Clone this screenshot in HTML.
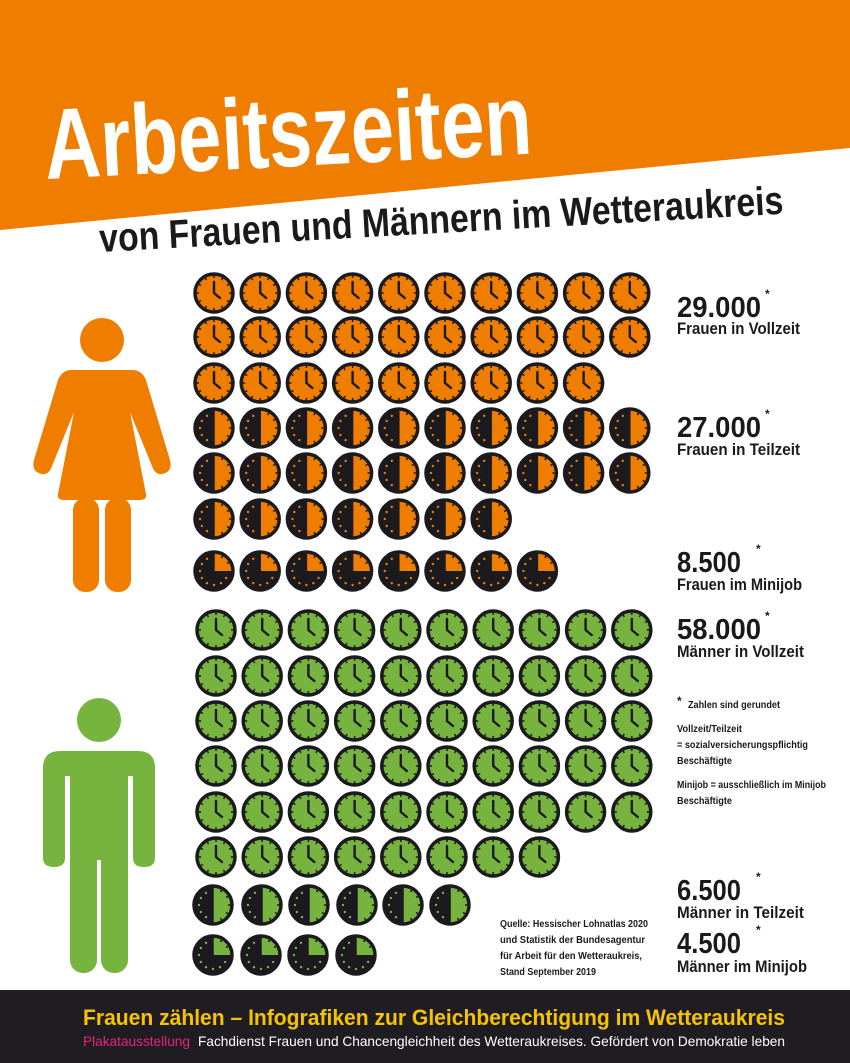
<!DOCTYPE html>
<html><head><meta charset="utf-8"><style>
html,body{margin:0;padding:0;background:#fff;}
svg{display:block;}
text{font-family:"Liberation Sans",sans-serif;font-weight:bold;}
</style></head><body>
<svg id="s" width="850" height="1063" viewBox="0 0 850 1063" xmlns="http://www.w3.org/2000/svg">
<rect width="850" height="1063" fill="#fff"/>
<polygon points="0,0 850,0 850,148 0,230" fill="#ee7d00"/>
<text x="46" y="179" font-size="100" fill="#fff" textLength="488" lengthAdjust="spacingAndGlyphs" transform="rotate(-3 46 179)">Arbeitszeiten</text>
<text x="100" y="252" font-size="40" fill="#1a1a1a" textLength="685" lengthAdjust="spacingAndGlyphs" transform="rotate(-3.2 100 252)">von Frauen und Männern im Wetteraukreis</text>

<g fill="#ee7d00">
  <circle cx="102" cy="340" r="22"/>
  <path d="M72,370 L132,370 Q142,370 146,380 L170,460 Q173,472 162,474 Q155,475 152,466 L130,412 L146,494 Q147,500 140,500 L64,500 Q57,500 58,494 L74,412 L52,466 Q49,475 42,474 Q31,472 34,460 L58,380 Q62,370 72,370 Z"/>
  <rect x="73" y="498" width="26" height="94" rx="12"/>
  <rect x="105" y="498" width="26" height="94" rx="12"/>
</g>
<g fill="#77b43f">
  <circle cx="99" cy="720" r="22"/>
  <path d="M60,751 L138,751 Q155,751 155,768 L155,858 Q155,867 144,867 Q133,867 133,858 L133,776 L128,776 L128,860 L70,860 L70,776 L65,776 L65,858 Q65,867 54,867 Q43,867 43,858 L43,768 Q43,751 60,751 Z"/>
  <rect x="70" y="840" width="27" height="133" rx="13"/>
  <rect x="101" y="840" width="27" height="133" rx="13"/>
</g>

<g id="clocks"></g>

<g fill="#1a1a1a">
  <text x="677" y="317" font-size="29" textLength="84" lengthAdjust="spacingAndGlyphs">29.000</text>
  <text x="765" y="298" font-size="12">*</text>
  <text x="677" y="334" font-size="17" textLength="123" lengthAdjust="spacingAndGlyphs">Frauen in Vollzeit</text>
  <text x="677" y="437" font-size="29" textLength="84" lengthAdjust="spacingAndGlyphs">27.000</text>
  <text x="765" y="418" font-size="12">*</text>
  <text x="677" y="455" font-size="17" textLength="123" lengthAdjust="spacingAndGlyphs">Frauen in Teilzeit</text>
  <text x="677" y="572" font-size="29" textLength="64" lengthAdjust="spacingAndGlyphs">8.500</text>
  <text x="756" y="553" font-size="12">*</text>
  <text x="677" y="590" font-size="17" textLength="125" lengthAdjust="spacingAndGlyphs">Frauen im Minijob</text>
  <text x="677" y="639" font-size="29" textLength="84" lengthAdjust="spacingAndGlyphs">58.000</text>
  <text x="765" y="620" font-size="12">*</text>
  <text x="677" y="657" font-size="17" textLength="127" lengthAdjust="spacingAndGlyphs">Männer in Vollzeit</text>
  <text x="677" y="900" font-size="29" textLength="64" lengthAdjust="spacingAndGlyphs">6.500</text>
  <text x="756" y="881" font-size="12">*</text>
  <text x="677" y="918" font-size="17" textLength="127" lengthAdjust="spacingAndGlyphs">Männer in Teilzeit</text>
  <text x="677" y="953" font-size="29" textLength="64" lengthAdjust="spacingAndGlyphs">4.500</text>
  <text x="756" y="934" font-size="12">*</text>
  <text x="677" y="972" font-size="17" textLength="130" lengthAdjust="spacingAndGlyphs">Männer im Minijob</text>

  <text x="677" y="705" font-size="12">*</text>
  <text x="688" y="708" font-size="10.5" textLength="92" lengthAdjust="spacingAndGlyphs">Zahlen sind gerundet</text>
  <text x="677" y="732" font-size="10.5" textLength="65" lengthAdjust="spacingAndGlyphs">Vollzeit/Teilzeit</text>
  <text x="677" y="748" font-size="10.5" textLength="131" lengthAdjust="spacingAndGlyphs">= sozialversicherungspflichtig</text>
  <text x="677" y="764" font-size="10.5" textLength="55" lengthAdjust="spacingAndGlyphs">Beschäftigte</text>
  <text x="677" y="788" font-size="10.5" textLength="149" lengthAdjust="spacingAndGlyphs">Minijob = ausschließlich im Minijob</text>
  <text x="677" y="804" font-size="10.5" textLength="55" lengthAdjust="spacingAndGlyphs">Beschäftigte</text>

  <text x="500" y="927" font-size="10.5" textLength="148" lengthAdjust="spacingAndGlyphs">Quelle: Hessischer Lohnatlas 2020</text>
  <text x="500" y="943" font-size="10.5" textLength="145" lengthAdjust="spacingAndGlyphs">und Statistik der Bundesagentur</text>
  <text x="500" y="959" font-size="10.5" textLength="142" lengthAdjust="spacingAndGlyphs">für Arbeit für den Wetteraukreis,</text>
  <text x="500" y="975" font-size="10.5" textLength="96" lengthAdjust="spacingAndGlyphs">Stand September 2019</text>
</g>

<rect x="0" y="990" width="850" height="73" fill="#1f1d22"/>
<text x="83" y="1025" font-size="22" fill="#f5c400" textLength="702" lengthAdjust="spacingAndGlyphs">Frauen zählen  –  Infografiken zur Gleichberechtigung im Wetteraukreis</text>
<text x="83" y="1046" font-size="14" fill="#e3257b" textLength="107" lengthAdjust="spacingAndGlyphs" style="font-weight:normal">Plakatausstellung</text>
<text x="198" y="1046" font-size="14" fill="#fff" textLength="587" lengthAdjust="spacingAndGlyphs" style="font-weight:normal">Fachdienst Frauen und Chancengleichheit des Wetteraukreises. Gefördert von Demokratie leben</text>
</svg>
<script>
(function(){
var NS="http://www.w3.org/2000/svg";
var g=document.getElementById("clocks");
var DK="#1b1a1e";
function el(t,a,p){var e=document.createElementNS(NS,t);for(var k in a)e.setAttribute(k,a[k]);(p||g).appendChild(e);return e;}
function clock(cx,cy,col,type){
  var c=el("g",{transform:"translate("+cx+","+cy+")"});
  var r=19;
  if(type==="full"){
    el("circle",{r:r,fill:col,stroke:DK,"stroke-width":3.5},c);
  } else {
    el("circle",{r:r,fill:DK,stroke:DK,"stroke-width":3.5},c);
    var rr=r-1.7;
    if(type==="half") el("path",{d:"M0,"+(-rr)+" A"+rr+","+rr+" 0 0 1 0,"+rr+" Z",fill:col},c);
    else el("path",{d:"M0,0 L0,"+(-rr)+" A"+rr+","+rr+" 0 0 1 "+rr+",0 Z",fill:col},c);
    el("line",{x1:0,y1:-rr,x2:0,y2:type==="half"?rr:0,stroke:DK,"stroke-width":1.5},c);
  }
  for(var i=0;i<12;i++){
    var a=i*Math.PI/6, s=Math.sin(a), co=-Math.cos(a);
    var colored = (type==="half" && i>0 && i<6) || (type==="quarter" && i>0 && i<3);
    if(type==="full"||colored){
      el("line",{x1:s*15,y1:co*15,x2:s*17.5,y2:co*17.5,stroke:DK,"stroke-width":1.5},c);
    } else if(!(i===0||(i===3&&type==="quarter")||(i===6&&type==="half"))){
      el("circle",{cx:s*14,cy:co*14,r:1.2,fill:col},c);
    }
  }
  if(type==="full"){
    el("path",{d:"M0,-11 L0,0 L6,5",fill:"none",stroke:DK,"stroke-width":2.4,"stroke-linecap":"round","stroke-linejoin":"round"},c);
  }
}
var OR="#ee7d00", GR="#77b43f";
var wx=function(i){return 214+i*46.2;};
var rowsW=[[293,10,"full"],[337,10,"full"],[383,9,"full"],[428,10,"half"],[473,10,"half"],[519,7,"half"],[571,8,"quarter"]];
rowsW.forEach(function(r){for(var i=0;i<r[1];i++)clock(wx(i),r[0],OR,r[2]);});
var mx=function(i){return 216+i*46.2;};
var rowsM=[[630,10],[676,10],[721,10],[766,10],[812,10],[857,8]];
rowsM.forEach(function(r){for(var i=0;i<r[1];i++)clock(mx(i),r[0],GR,"full");});
[213,262,309,357,403,450].forEach(function(x){clock(x,905,GR,"half");});
[213,261,308,356].forEach(function(x){clock(x,955,GR,"quarter");});
})();
</script>
</body></html>
